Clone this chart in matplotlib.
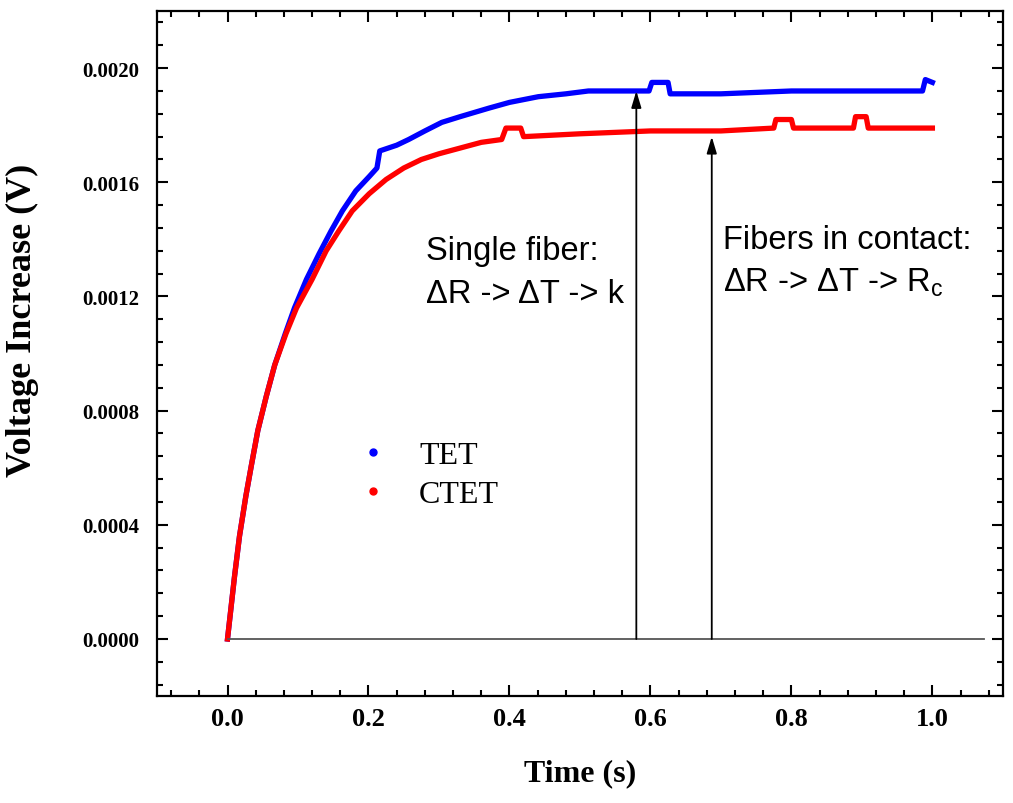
import matplotlib
matplotlib.use('Agg')
import matplotlib.pyplot as plt
from matplotlib.lines import Line2D
from matplotlib.ticker import MultipleLocator, FormatStrFormatter

plt.rcParams['font.family'] = 'serif'
plt.rcParams['font.serif'] = ['Liberation Serif', 'DejaVu Serif']
plt.rcParams['mathtext.fontset'] = 'custom'
plt.rcParams['mathtext.rm'] = 'Liberation Sans'
plt.rcParams['mathtext.it'] = 'Liberation Sans:italic'

# Values (time in s, voltage in V)
tet_t = [0.000, 0.010, 0.017, 0.026, 0.034, 0.043, 0.055, 0.067, 0.082, 0.095,
         0.112, 0.130, 0.147, 0.163, 0.182, 0.201, 0.212, 0.216, 0.240, 0.257,
         0.280, 0.304, 0.330, 0.371, 0.400, 0.441, 0.480, 0.512, 0.598, 0.602,
         0.625, 0.628, 0.700, 0.800, 0.900, 0.986, 0.990, 1.000]
tet_v = [0.0, 0.00022, 0.00036, 0.00050, 0.00061, 0.00073, 0.00085, 0.00096, 0.00107, 0.00116,
         0.00126, 0.00135, 0.00143, 0.00150, 0.00157, 0.00162, 0.00165, 0.00171, 0.00173, 0.00175,
         0.00178, 0.00181, 0.00183, 0.00186, 0.00188, 0.00190, 0.00191, 0.00192, 0.00192, 0.00195,
         0.00195, 0.00191, 0.00191, 0.00192, 0.00192, 0.00192, 0.00196, 0.00195]

ctet_t = [0.000, 0.010, 0.017, 0.026, 0.034, 0.043, 0.055, 0.067, 0.083, 0.098,
          0.120, 0.140, 0.158, 0.177, 0.201, 0.225, 0.250, 0.275, 0.300, 0.330,
          0.360, 0.389, 0.395, 0.416, 0.420, 0.500, 0.600, 0.700, 0.775, 0.778,
          0.800, 0.803, 0.888, 0.891, 0.906, 0.909, 1.000]
ctet_v = [0.0, 0.00022, 0.00036, 0.00050, 0.00061, 0.00073, 0.00085, 0.00096, 0.00107, 0.00116,
          0.00126, 0.00136, 0.00143, 0.00150, 0.00156, 0.00161, 0.00165, 0.00168, 0.00170, 0.00172,
          0.00174, 0.00175, 0.00179, 0.00179, 0.00176, 0.00177, 0.00178, 0.00178, 0.00179, 0.00182,
          0.00182, 0.00179, 0.00179, 0.00183, 0.00183, 0.00179, 0.00179]

arrow_x = [0.58, 0.687]
arrow_top = [0.00192, 0.00176]


def gera_grafico():
    fig = plt.figure(figsize=(10.13, 8.04), dpi=100)
    ax = fig.add_axes([0.155, 0.133, 0.835, 0.852])

    ax.plot(tet_t, tet_v, color='#0000ff', lw=3.8, solid_joinstyle='round')
    ax.plot(ctet_t, ctet_v, color='#ff0000', lw=3.8, solid_joinstyle='round')

    # baseline and arrows
    ax.plot([0.0, 1.073], [0.0, 0.0], color='#555555', lw=1.3)
    for x, top in zip(arrow_x, arrow_top):
        ax.annotate('', xy=(x, top), xytext=(x, 0.0),
                    arrowprops=dict(arrowstyle='-|>,head_length=1.0,head_width=0.3',
                                    color='black', lw=1.3, shrinkA=0, shrinkB=0))

    sans = 'Liberation Sans'
    ax.text(0.2815, 0.001360, 'Single fiber:', family=sans, fontsize=23.5, ha='left', va='center')
    ax.text(0.2815, 0.001210, '\u0394R -> \u0394T -> k', family=sans, fontsize=23.5,
            ha='left', va='center')
    ax.text(0.703, 0.001400, 'Fibers in contact:', family=sans, fontsize=23.5, ha='left', va='center')
    ax.text(0.703, 0.001250, '\u0394R -> \u0394T -> R$_{\\mathrm{c}}$', family=sans,
            fontsize=23.5, ha='left', va='center')

    ax.set_xlim(-0.1, 1.1)
    ax.set_ylim(-0.0002, 0.0022)
    ax.xaxis.set_major_locator(MultipleLocator(0.2))
    ax.xaxis.set_minor_locator(MultipleLocator(0.04))
    ax.yaxis.set_major_locator(MultipleLocator(0.0004))
    ax.yaxis.set_minor_locator(MultipleLocator(0.00008))
    ax.xaxis.set_major_formatter(FormatStrFormatter('%.1f'))
    ax.yaxis.set_major_formatter(FormatStrFormatter('%.4f'))
    ax.tick_params(which='both', direction='in', top=True, right=True, width=1.5)
    ax.tick_params(which='major', length=8)
    ax.tick_params(which='minor', length=4)
    ax.tick_params(axis='x', labelsize=19, pad=8)
    ax.tick_params(axis='y', labelsize=15, pad=13)
    for lab in ax.get_xticklabels() + ax.get_yticklabels():
        lab.set_fontweight('bold')
    for s in ax.spines.values():
        s.set_linewidth(1.6)

    ax.set_xlabel('Time (s)', fontsize=23, fontweight='bold', labelpad=20)
    ax.set_ylabel('Voltage Increase (V)', fontsize=26, fontweight='bold')
    ax.yaxis.set_label_coords(-0.14, 0.55)

    handles = [Line2D([], [], ls='none', marker='o', ms=5, color='#0000ff'),
               Line2D([], [], ls='none', marker='o', ms=5, color='#ff0000')]
    ax.legend(handles, ['TET', 'CTET'], loc='upper left', bbox_to_anchor=(0.3396, 0.4664),
              bbox_transform=fig.transFigure, frameon=False, fontsize=23,
              handlelength=1.0, handletextpad=0.95, labelspacing=0.3, borderaxespad=0)

    fig.savefig('out.png', dpi=100)


def main():
    gera_grafico()


if __name__ == '__main__':
    main()
